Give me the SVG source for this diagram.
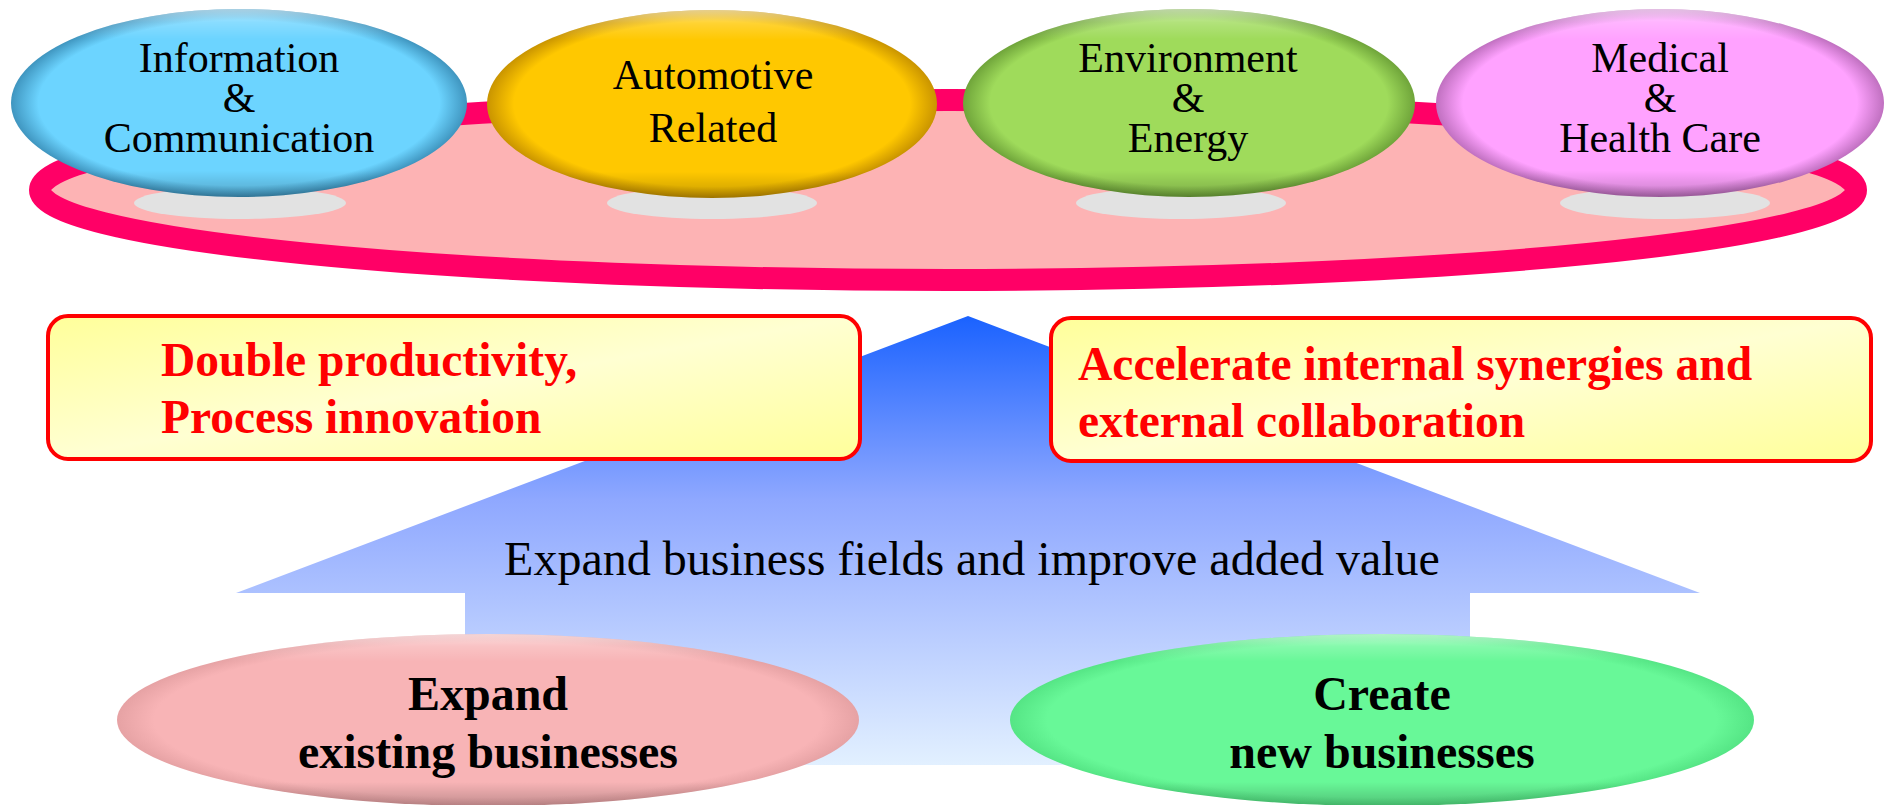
<svg xmlns="http://www.w3.org/2000/svg" width="1885" height="805" viewBox="0 0 1885 805">
<defs>
  <linearGradient id="arrowGrad" x1="0" y1="316" x2="0" y2="765" gradientUnits="userSpaceOnUse">
    <stop offset="0" stop-color="#1A62FF"/>
    <stop offset="0.41" stop-color="#8FA8FF"/>
    <stop offset="1" stop-color="#E2F0FF"/>
  </linearGradient>
  <linearGradient id="boxGrad" x1="0" y1="0" x2="1" y2="1">
    <stop offset="0" stop-color="#FFFF9A"/>
    <stop offset="0.5" stop-color="#FFFFD2"/>
    <stop offset="1" stop-color="#FFFF9A"/>
  </linearGradient>
  <linearGradient id="bevel" x1="0" y1="0" x2="0" y2="1">
    <stop offset="0" stop-color="#FFFFFF" stop-opacity="0.55"/>
    <stop offset="0.07" stop-color="#FFFFFF" stop-opacity="0.2"/>
    <stop offset="0.16" stop-color="#FFFFFF" stop-opacity="0"/>
    <stop offset="0.86" stop-color="#000000" stop-opacity="0"/>
    <stop offset="1" stop-color="#000000" stop-opacity="0.22"/>
  </linearGradient>
  <radialGradient id="gBlue" cx="0.5" cy="0.5" r="0.5">
    <stop offset="0" stop-color="#6CD4FF"/><stop offset="0.88" stop-color="#6CD4FF"/><stop offset="1" stop-color="#3F95BF"/>
  </radialGradient>
  <radialGradient id="gYellow" cx="0.5" cy="0.5" r="0.5">
    <stop offset="0" stop-color="#FFC800"/><stop offset="0.88" stop-color="#FFC800"/><stop offset="1" stop-color="#C99400"/>
  </radialGradient>
  <radialGradient id="gGreen" cx="0.5" cy="0.5" r="0.5">
    <stop offset="0" stop-color="#9FDB5B"/><stop offset="0.88" stop-color="#9FDB5B"/><stop offset="1" stop-color="#6FA43A"/>
  </radialGradient>
  <radialGradient id="gMagenta" cx="0.5" cy="0.5" r="0.5">
    <stop offset="0" stop-color="#FFA2FF"/><stop offset="0.88" stop-color="#FFA2FF"/><stop offset="1" stop-color="#C070C0"/>
  </radialGradient>
  <radialGradient id="gPink" cx="0.5" cy="0.5" r="0.5">
    <stop offset="0" stop-color="#F8B4B6"/><stop offset="0.9" stop-color="#F8B4B6"/><stop offset="1" stop-color="#E6A2A4"/>
  </radialGradient>
  <radialGradient id="gMint" cx="0.5" cy="0.5" r="0.5">
    <stop offset="0" stop-color="#68F898"/><stop offset="0.9" stop-color="#68F898"/><stop offset="1" stop-color="#55E585"/>
  </radialGradient>
</defs>
<style>
  .top { font-family: "Liberation Serif", "Times New Roman", serif; font-size: 42px; fill: #000; text-anchor: middle; }
  .mid { font-family: "Liberation Serif", "Times New Roman", serif; font-size: 48px; fill: #000; text-anchor: middle; }
  .red { font-family: "Liberation Serif", "Times New Roman", serif; font-size: 47.5px; font-weight: bold; fill: #FF0000; }
  .bot { font-family: "Liberation Serif", "Times New Roman", serif; font-size: 48px; font-weight: bold; fill: #000; text-anchor: middle; }
  .shadow { fill: #E2E2E2; }
  .bevel { fill: url(#bevel); }
  .box { fill: url(#boxGrad); stroke: #FF0000; stroke-width: 4; }
</style>

<g id="platform">
  <ellipse cx="948" cy="190" rx="908" ry="90" fill="#FDB3B4" stroke="#FF0066" stroke-width="22"/>
  <ellipse class="shadow" cx="240" cy="203" rx="106" ry="16"/>
  <ellipse class="shadow" cx="712" cy="203" rx="105" ry="16"/>
  <ellipse class="shadow" cx="1181" cy="203" rx="105" ry="16"/>
  <ellipse class="shadow" cx="1665" cy="203" rx="105" ry="16"/>
</g>

<g id="connectors">
  <polygon id="big-arrow" points="968,316 1700,593 1470,593 1470,765 465,765 465,593 236,593" fill="url(#arrowGrad)"/>
</g>

<g id="node-info-comm">
  <ellipse cx="239" cy="103" rx="228" ry="94" fill="url(#gBlue)"/>
  <ellipse class="bevel" cx="239" cy="103" rx="228" ry="94"/>
  <text class="top" x="239" y="72">Information</text>
  <text class="top" x="239" y="112">&amp;</text>
  <text class="top" x="239" y="152">Communication</text>
</g>

<g id="node-automotive">
  <ellipse cx="712" cy="104" rx="225" ry="94" fill="url(#gYellow)"/>
  <ellipse class="bevel" cx="712" cy="104" rx="225" ry="94"/>
  <text class="top" x="713" y="89">Automotive</text>
  <text class="top" x="713" y="142">Related</text>
</g>

<g id="node-env-energy">
  <ellipse cx="1189" cy="103" rx="226" ry="94" fill="url(#gGreen)"/>
  <ellipse class="bevel" cx="1189" cy="103" rx="226" ry="94"/>
  <text class="top" x="1188" y="72">Environment</text>
  <text class="top" x="1188" y="112">&amp;</text>
  <text class="top" x="1188" y="152">Energy</text>
</g>

<g id="node-medical">
  <ellipse cx="1660" cy="103" rx="224" ry="94" fill="url(#gMagenta)"/>
  <ellipse class="bevel" cx="1660" cy="103" rx="224" ry="94"/>
  <text class="top" x="1660" y="72">Medical</text>
  <text class="top" x="1660" y="112">&amp;</text>
  <text class="top" x="1660" y="152">Health Care</text>
</g>

<g id="node-productivity">
  <rect class="box" x="48" y="316" width="812" height="143" rx="20" ry="20"/>
  <text class="red" x="161" y="376">Double productivity,</text>
  <text class="red" x="161" y="433">Process innovation</text>
</g>

<g id="node-synergies">
  <rect class="box" x="1051" y="318" width="820" height="143" rx="20" ry="20"/>
  <text class="red" x="1078" y="380">Accelerate internal synergies and</text>
  <text class="red" x="1078" y="437">external collaboration</text>
</g>

<g id="arrow-label">
  <text class="mid" x="972" y="575">Expand business fields and improve added value</text>
</g>

<g id="node-expand-existing">
  <ellipse cx="488" cy="720" rx="371" ry="86" fill="url(#gPink)"/>
  <ellipse class="bevel" cx="488" cy="720" rx="371" ry="86"/>
  <text class="bot" x="488" y="710">Expand</text>
  <text class="bot" x="488" y="768">existing businesses</text>
</g>

<g id="node-create-new">
  <ellipse cx="1382" cy="720" rx="372" ry="86" fill="url(#gMint)"/>
  <ellipse class="bevel" cx="1382" cy="720" rx="372" ry="86"/>
  <text class="bot" x="1382" y="710">Create</text>
  <text class="bot" x="1382" y="768">new businesses</text>
</g>
</svg>
